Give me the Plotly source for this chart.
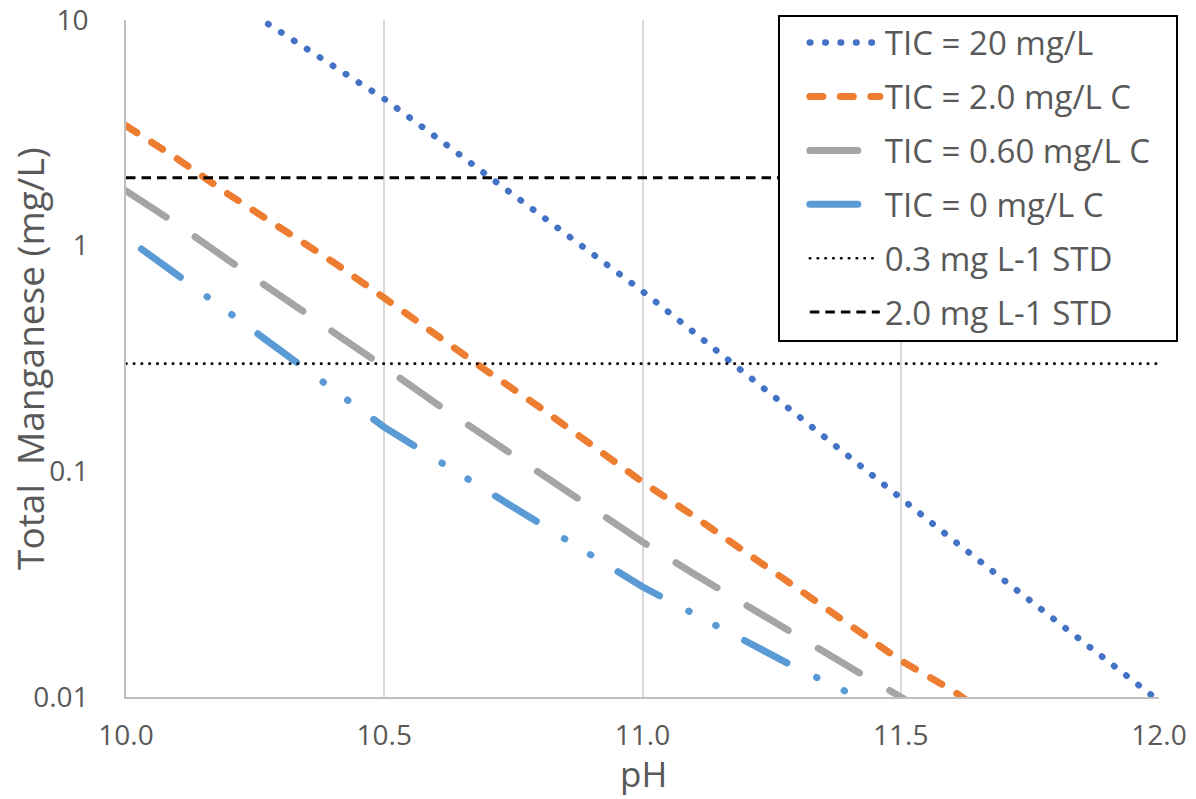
import plotly.graph_objects as go

# ---- data ----
ph_tic20 = [10.2, 10.3, 10.4, 10.5, 10.6, 10.7, 10.8, 10.9, 11.0, 11.1, 11.2, 11.3, 11.4,
            11.5, 11.6, 11.7, 11.8, 11.9, 12.0]
mn_tic20 = [12.4, 8.81, 6.30, 4.47, 3.03, 2.04, 1.38, 0.932, 0.628, 0.412, 0.269, 0.176,
            0.116, 0.0759, 0.0499, 0.0329, 0.0217, 0.0144, 0.0096]

ph_tic2 = [10.0, 10.1, 10.2, 10.3, 10.4, 10.5, 10.6, 10.7, 10.8, 10.9, 11.0, 11.1, 11.2,
           11.3, 11.4, 11.5, 11.6, 11.7]
mn_tic2 = [3.40, 2.42, 1.68, 1.19, 0.849, 0.587, 0.401, 0.277, 0.193, 0.132, 0.0897,
           0.0632, 0.0437, 0.0305, 0.0212, 0.0145, 0.0107, 0.0074]

ph_tic060 = [10.0, 10.1, 10.2, 10.3, 10.4, 10.5, 10.6, 10.7, 10.8, 10.9, 11.0, 11.1, 11.2,
             11.3, 11.4, 11.5, 11.6]
mn_tic060 = [1.75, 1.24, 0.857, 0.598, 0.423, 0.290, 0.200, 0.141, 0.0993, 0.0692, 0.0487,
             0.0351, 0.0255, 0.0188, 0.0136, 0.0100, 0.0074]

ph_tic0 = [10.03, 10.1, 10.2, 10.3, 10.4, 10.5, 10.6, 10.7, 10.8, 10.9, 11.0, 11.1, 11.2,
           11.3, 11.4, 11.5]
mn_tic0 = [0.967, 0.745, 0.504, 0.342, 0.231, 0.157, 0.113, 0.0813, 0.0587, 0.0422, 0.0308,
           0.0233, 0.0177, 0.0134, 0.0104, 0.0079]

ph_std = [10.0, 12.0]
std_03 = [0.3, 0.3]
std_20 = [2.0, 2.0]

series_names = ["TIC = 20 mg/L", "TIC = 2.0 mg/L C", "TIC = 0.60 mg/L C",
                "TIC = 0 mg/L C", "0.3 mg L-1 STD", "2.0 mg L-1 STD"]

x_tickvals = [10.0, 10.5, 11.0, 11.5, 12.0]
x_ticktext = ["10.0", "10.5", "11.0", "11.5", "12.0"]
y_tickvals = [0.01, 0.1, 1, 10]
y_ticktext = ["0.01", "0.1", "1", "10"]

FONT = "Open Sans"
TXT = "#595959"

# plot-area geometry in pixels (from the reference)
L, R, T, B = 126, 1159, 20, 697
W, H = R - L, B - T

fig = go.Figure()
styles = [
    (ph_tic20, mn_tic20, "#4472C4", 6.5, "0.5px,14.9px"),
    (ph_tic2, mn_tic2, "#ED7D31", 7, "13px,17.5px"),
    (ph_tic060, mn_tic060, "#A5A5A5", 7, "48px,35px"),
    (ph_tic0, mn_tic0, "#5B9BD5", 7, "48px,33px,0.5px,30px,0.5px,32px"),
    (ph_std, std_03, "#000000", 2.6, "0.5px,7.3px"),
    (ph_std, std_20, "#000000", 3, "9.5px,6px"),
]
for i, (xs, ys, col, w, dash) in enumerate(styles):
    fig.add_trace(go.Scatter(
        x=xs, y=ys, mode="lines", name=series_names[i],
        legendgroup="g%d" % i,
        line=dict(color=col, width=w, dash=dash),
        hoverinfo="skip",
    ))

# legend frame
lx0, lx1 = (779 - L) / W, (1177 - L) / W
ly0, ly1 = (B - 341) / H, (B - 16) / H
fig.add_shape(type="rect", xref="paper", yref="paper", x0=lx0, x1=lx1, y0=ly0, y1=ly1,
              line=dict(color="black", width=2), fillcolor="white", layer="above")

# axis titles placed as text at the reference positions
fig.add_annotation(text="Total\u00a0 Manganese (mg/L)", xref="paper", yref="paper",
                   x=(30 - L) / W, y=(B - 359) / H, textangle=-90, showarrow=False,
                   xanchor="center", yanchor="middle",
                   font=dict(family=FONT, size=37, color=TXT))
fig.add_annotation(text="pH", xref="paper", yref="paper",
                   x=(643 - L) / W, y=(B - 773) / H, showarrow=False,
                   xanchor="center", yanchor="middle",
                   font=dict(family=FONT, size=35, color=TXT))

fig.update_layout(
    width=1196, height=799,
    margin=dict(l=L, r=1196 - R, t=T, b=799 - B),
    paper_bgcolor="white", plot_bgcolor="white",
    font=dict(family=FONT, color=TXT),
    showlegend=True,
    legend=dict(
        x=lx0 + 0.025, y=ly1 + 0.002, xanchor="left", yanchor="top",
        bgcolor="rgba(0,0,0,0)", borderwidth=0,
        font=dict(family=FONT, size=33, color=TXT),
        traceorder="grouped", tracegroupgap=8, itemwidth=70,
    ),
    xaxis=dict(
        range=[10, 12], tickmode="array", tickvals=x_tickvals, ticktext=x_ticktext,
        showgrid=True, gridcolor="#d9d9d9", gridwidth=1.5,
        showline=True, linecolor="#bfbfbf", linewidth=1.5,
        zeroline=False, ticks="", ticklabelstandoff=13, automargin=False,
        ticklabeloverflow="allow",
        tickfont=dict(family=FONT, size=28, color=TXT),
    ),
    yaxis=dict(
        type="log", range=[-2, 1], tickmode="array", tickvals=y_tickvals, ticktext=y_ticktext,
        showgrid=False, showline=True, linecolor="#bfbfbf", linewidth=1.5,
        zeroline=False, ticks="", ticklabelstandoff=30, automargin=False,
        ticklabeloverflow="allow",
        tickfont=dict(family=FONT, size=28, color=TXT),
    ),
)

post = """
document.body.style.margin = '0';
var gd = document.getElementById('{plot_id}');
function roundCaps(){
  var idx = [0, 1, 2, 3, 4];
  var tr = gd.querySelectorAll('.scatterlayer .trace');
  tr.forEach(function(t, i){ if(idx.indexOf(i) >= 0){ t.querySelectorAll('path.js-line').forEach(function(p){ p.style.strokeLinecap = 'round'; }); } });
  var lg = gd.querySelectorAll('.legend .traces');
  lg.forEach(function(t, i){ if(idx.indexOf(i) >= 0){ t.querySelectorAll('path.js-line').forEach(function(p){ p.style.strokeLinecap = 'round'; }); } });
}
roundCaps();
gd.on('plotly_afterplot', roundCaps);
"""
fig.write_html("out.html", post_script=post, config={"displayModeBar": False})
